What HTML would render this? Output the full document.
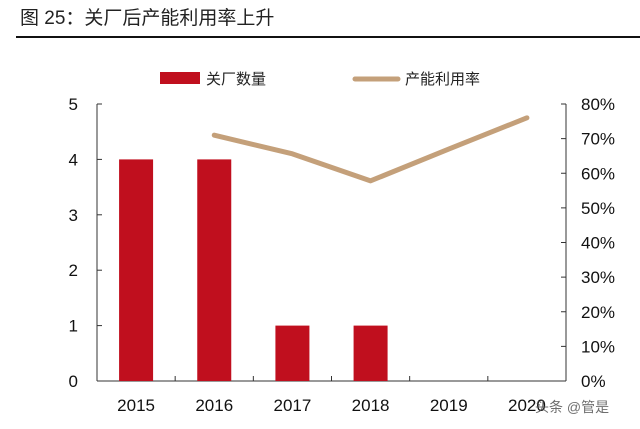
<!DOCTYPE html>
<html><head><meta charset="utf-8"><style>
body{margin:0;background:#fff;width:640px;height:424px;overflow:hidden;font-family:"Liberation Sans","Noto Sans CJK SC",sans-serif}
</style></head><body>
<svg width="640" height="424" xmlns="http://www.w3.org/2000/svg" font-family="Liberation Sans, Noto Sans CJK SC, sans-serif">
<text x="20" y="24" font-size="19" fill="#222">图 25：关厂后产能利用率上升</text>
<line x1="16" y1="37" x2="640" y2="37" stroke="#111" stroke-width="2"/>
<g>
<rect x="160" y="72" width="40" height="12" fill="#c00f1e"/>
<text x="206" y="84" font-size="15" fill="#222">关厂数量</text>
<line x1="355" y1="79" x2="398" y2="79" stroke="#c4a07a" stroke-width="5" stroke-linecap="round"/>
<text x="405" y="84" font-size="15" fill="#222">产能利用率</text>
</g>
<g id="axes"></g>
<g id="marks"></g>
<text x="535" y="412" font-size="14" fill="#555" opacity="0.85">头条 @管是</text>
</svg>
<script>
const categories=["2015","2016","2017","2018","2019","2020"];
const closures=[4,4,1,1,0,0];
const utilization=[null,71,65.6,57.8,67,76];
const leftTicks=[0,1,2,3,4,5];
const rightTicks=[0,10,20,30,40,50,60,70,80];
const NS="http://www.w3.org/2000/svg";
const L=97,R=566,T=104,B=381;
const bw=(R-L)/categories.length;
const xC=i=>L+bw*(i+0.5);
const yL=v=>B-(B-T)*v/5;
const yR=v=>B-(B-T)*v/80;
function mk(t,a,p){const e=document.createElementNS(NS,t);for(const k in a)e.setAttribute(k,a[k]);p.appendChild(e);return e;}
const ax=document.getElementById('axes'),mg=document.getElementById('marks');
let e;
e=mk('line',{x1:L,y1:T,x2:L,y2:B,stroke:'#333'},ax);


e=mk('line',{x1:R,y1:T,x2:R,y2:B,stroke:'#333'},ax);


e=mk('line',{x1:L,y1:B,x2:R,y2:B,stroke:'#333'},ax);


leftTicks.forEach(v=>{
 e=mk('line',{x1:L,y1:yL(v),x2:L+5,y2:yL(v),stroke:'#333'},ax);
 
 
 e=mk('text',{x:L-19,y:yL(v)+6,'font-size':17,'text-anchor':'end',fill:'#111'},ax);e.textContent=v;
 
 
});
rightTicks.forEach(v=>{
 e=mk('line',{x1:R-5,y1:yR(v),x2:R,y2:yR(v),stroke:'#333'},ax);
 
 
 e=mk('text',{x:R+15,y:yR(v)+6,'font-size':17,fill:'#111'},ax);e.textContent=v+'%';
 
 
});
categories.forEach((c,i)=>{
 if(i>0){e=mk('line',{x1:L+bw*i,y1:B,x2:L+bw*i,y2:B-5,stroke:'#333'},ax);
 
 }
 e=mk('text',{x:xC(i),y:411,'font-size':17,'text-anchor':'middle',fill:'#111'},ax);e.textContent=c;
 
 
 if(closures[i]>0){
 e=mk('rect',{x:xC(i)-17,y:yL(closures[i]),width:34,height:B-yL(closures[i]),fill:'#c00f1e'},mg);
 
 }
});
const pts=utilization.map((v,i)=>v==null?null:xC(i)+','+yR(v)).filter(p=>p);
e=mk('polyline',{points:pts.join(' '),fill:'none',stroke:'#c4a07a','stroke-width':5,'stroke-linecap':'round','stroke-linejoin':'round'},mg);


</script>
</body></html>
